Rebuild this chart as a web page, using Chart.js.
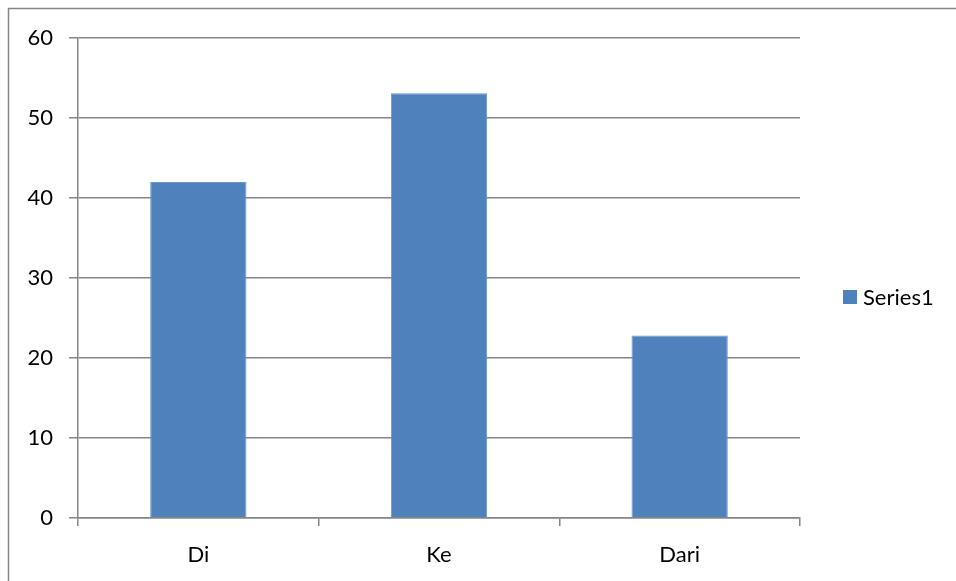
<!DOCTYPE html>
<html>
<head>
<meta charset="utf-8">
<script src="https://cdn.jsdelivr.net/npm/chart.js@4/dist/chart.umd.min.js"></script>
<style>
  html, body { margin: 0; padding: 0; background: #ffffff; }
  #wrap { width: 956px; height: 581px; position: relative; }
</style>
</head>
<body>
<div id="wrap"><canvas id="chart" width="956" height="581"></canvas></div>
<script>
const categories = ['Di', 'Ke', 'Dari'];
const series1 = [42, 53.1, 22.8];
const seriesName = 'Series1';
const yTicks = { min: 0, max: 60, step: 10 };

const AXIS_GRAY = '#868686';
const BAR_FILL = '#4F81BD';
const BAR_EDGE = '#6A97CE';
const FONT = { family: 'Lato, "Open Sans", sans-serif', size: 22 };

// Frame around the whole chart (its right and bottom edges run off the canvas)
const framePlugin = {
  id: 'frame',
  beforeDraw(chart) {
    const ctx = chart.ctx;
    ctx.save();
    ctx.strokeStyle = AXIS_GRAY;
    ctx.lineWidth = 1.5;
    ctx.strokeRect(8.5, 8.5, chart.width + 20, chart.height + 20);
    ctx.restore();
  }
};

// Legend drawn at the right, vertically centred on the plot
const sideLegend = {
  id: 'sideLegend',
  afterDraw(chart) {
    const ctx = chart.ctx;
    const ds = chart.data.datasets[0];
    const area = chart.chartArea;
    const cy = (area.top + area.bottom) / 2 + 19;
    ctx.save();
    ctx.fillStyle = ds.backgroundColor;
    ctx.fillRect(843, cy - 7, 14, 14);
    ctx.fillStyle = '#000000';
    ctx.font = FONT.size + 'px ' + FONT.family;
    ctx.textBaseline = 'middle';
    ctx.textAlign = 'left';
    ctx.fillText(ds.label, 863, cy + 1);
    ctx.restore();
  }
};

new Chart(document.getElementById('chart'), {
  type: 'bar',
  data: {
    labels: categories,
    datasets: [{
      label: seriesName,
      data: series1,
      backgroundColor: BAR_FILL,
      borderColor: BAR_EDGE,
      borderWidth: 1,
      categoryPercentage: 0.4,
      barPercentage: 1.0
    }]
  },
  options: {
    responsive: false,
    animation: false,
    devicePixelRatio: 1,
    layout: { padding: { left: 0, right: 156, top: 38, bottom: 0 } },
    plugins: {
      legend: { display: false },
      tooltip: { enabled: false }
    },
    scales: {
      x: {
        offset: true,
        grid: {
          display: true,
          offset: true,
          drawOnChartArea: false,
          drawTicks: true,
          tickLength: 8,
          color: AXIS_GRAY,
          lineWidth: 1.5
        },
        border: { display: true, color: AXIS_GRAY, width: 1.5 },
        ticks: { color: '#000000', font: FONT, padding: 16, maxRotation: 0 },
        afterFit(scale) { scale.height = 581 - 518; }
      },
      y: {
        min: yTicks.min,
        max: yTicks.max,
        ticks: { stepSize: yTicks.step, color: '#000000', font: FONT, padding: 16 },
        grid: {
          color: AXIS_GRAY,
          lineWidth: 1.5,
          drawTicks: true,
          tickLength: 9
        },
        border: { display: true, color: AXIS_GRAY, width: 1.5 },
        afterFit(scale) { scale.width = 78; }
      }
    }
  },
  plugins: [framePlugin, sideLegend]
});
</script>
</body>
</html>
